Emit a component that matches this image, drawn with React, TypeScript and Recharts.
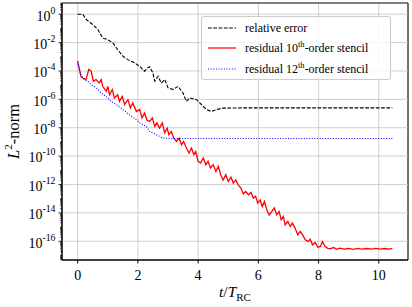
import React from 'react';
import {
  LineChart,
  Line,
  XAxis,
  YAxis,
  CartesianGrid,
  ReferenceLine,
  ReferenceArea,
  Legend,
} from 'recharts';

const FONT = '"Liberation Serif", "DejaVu Serif", "Times New Roman", serif';

// relative error (black dashed)
const errT = [0, 0.17, 0.28, 0.5, 0.67, 0.83, 1.0, 1.17, 1.33, 1.5, 1.67, 1.89, 2.06, 2.22, 2.33, 2.39, 2.5, 2.56, 2.67, 2.78, 2.89, 3.0, 3.17, 3.33, 3.5, 3.61, 3.72, 3.95, 4.11, 4.28, 4.44, 4.61, 4.81, 5.5, 6.5, 7.5, 8.5, 9.5, 10.45];
const errV = [1.0, 1.0, 0.43, 0.19, 0.083, 0.021, 0.016, 0.0095, 0.0032, 0.0011, 6.3e-4, 3.7e-4, 2.1e-4, 9.5e-5, 1.7e-4, 2.0e-4, 7.2e-5, 1.9e-5, 4.2e-5, 1.4e-5, 2.5e-5, 6.5e-6, 4.9e-6, 8.3e-6, 2.8e-6, 7.2e-7, 1.26e-6, 9.5e-7, 4.3e-7, 1.9e-7, 1.4e-7, 1.9e-7, 2.4e-7, 2.5e-7, 2.5e-7, 2.5e-7, 2.5e-7, 2.5e-7, 2.5e-7];

// residual, 10th-order stencil (red)
const res10T = [
  0, 0.06, 0.11, 0.17, 0.28, 0.37, 0.45, 0.52, 0.61, 0.72, 0.78, 0.83, 0.95, 1.0, 1.06, 1.15, 1.22, 1.33, 1.39, 1.48,
  1.56, 1.67, 1.75, 1.83, 1.95, 2.06, 2.14, 2.22, 2.3, 2.39, 2.48, 2.56, 2.63, 2.72, 2.81, 2.89, 2.97, 3.03, 3.11,
  3.19, 3.28, 3.37, 3.45, 3.52, 3.61, 3.7, 3.78, 3.86, 3.92, 4.0, 4.08, 4.17, 4.26, 4.33, 4.41, 4.5, 4.59, 4.67, 4.75,
  4.83, 4.92, 5.0, 5.09, 5.17, 5.25, 5.33, 5.42, 5.5, 5.58, 5.67, 5.76, 5.83, 5.91, 5.98, 6.06, 6.13, 6.2, 6.28, 6.36,
  6.45, 6.53, 6.61, 6.69, 6.76, 6.83, 6.89, 6.98, 7.06, 7.13, 7.22, 7.31, 7.39, 7.47, 7.56, 7.65, 7.72, 7.8, 7.89,
  7.98, 8.06, 8.13, 8.2, 8.3, 8.4, 8.5, 8.6, 8.7, 8.85, 9.0, 9.15, 9.3, 9.45, 9.6, 9.75, 9.9, 10.05, 10.2, 10.35, 10.45,
];
const res10V = [
  4.8e-4, 1.26e-4, 4.0e-5, 3.2e-5, 2.45e-5, 1.3e-4, 9.5e-5, 1.9e-5, 2.45e-5, 1.45e-5, 2.45e-5, 8.3e-6, 3.7e-6, 8.3e-6,
  2.1e-6, 4.9e-6, 1.26e-6, 2.1e-6, 7.2e-7, 1.6e-6, 4.3e-7, 9.5e-7, 2.5e-7, 5.6e-7, 1.4e-7, 1.9e-7, 4.9e-8, 1.1e-7,
  3.5e-8, 2.8e-8, 4.9e-8, 1.26e-8, 2.2e-8, 9.5e-9, 2.2e-8, 4.3e-9, 9.5e-9, 3.2e-9, 5.5e-9, 1.9e-9, 1.1e-9, 1.9e-9,
  6.3e-10, 1.1e-9, 3.7e-10, 1.66e-10, 3.7e-10, 1.26e-10, 2.1e-10, 4.3e-11, 3.2e-11, 7.4e-11, 2.45e-11, 4.3e-11,
  1.45e-11, 2.45e-11, 8.3e-12, 1.9e-11, 4.9e-12, 2.1e-12, 4.9e-12, 1.6e-12, 3.3e-12, 1.26e-12, 2.1e-12, 9.5e-13,
  5.6e-13, 2.2e-13, 3.2e-13, 1.9e-13, 2.75e-13, 1.1e-13, 1.45e-13, 4.9e-14, 8.3e-14, 2.8e-14, 6.3e-14, 1.66e-14,
  7.2e-15, 1.26e-14, 2.2e-14, 7.2e-15, 1.26e-14, 3.2e-15, 5.6e-15, 1.45e-15, 2.45e-15, 1.1e-15, 1.9e-15, 8.5e-16,
  2.8e-16, 4.9e-16, 2.8e-16, 1.26e-16, 9.5e-17, 1.4e-16, 5.6e-17, 8.1e-17, 3.8e-17, 4.3e-17, 9.5e-17, 4.8e-17,
  3.2e-17, 3.0e-17, 3.6e-17, 2.7e-17, 3.3e-17, 2.8e-17, 3.1e-17, 2.7e-17, 3.2e-17, 2.8e-17, 3.1e-17, 2.8e-17,
  3.2e-17, 2.8e-17, 3.1e-17, 2.8e-17, 3.2e-17,
];

// residual, 12th-order stencil (blue dotted)
const res12T = [0, 0.06, 0.11, 0.22, 0.33, 0.45, 0.61, 0.78, 0.95, 1.11, 1.28, 1.5, 1.72, 1.95, 2.06, 2.28, 2.39, 2.61, 2.83, 3.06, 4.0, 5.0, 6.0, 7.0, 8.0, 9.0, 10.0, 10.45];
const res12V = [4.8e-4, 1.26e-4, 5.5e-5, 2.45e-5, 1.9e-5, 1.1e-5, 6.5e-6, 2.8e-6, 1.6e-6, 7.2e-7, 4.3e-7, 1.9e-7, 8.3e-8, 3.7e-8, 2.2e-8, 1.26e-8, 5.5e-9, 3.2e-9, 1.9e-9, 1.75e-9, 1.75e-9, 1.75e-9, 1.75e-9, 1.75e-9, 1.75e-9, 1.75e-9, 1.75e-9, 1.75e-9];

const xTicks = [0, 2, 4, 6, 8, 10];
const yMajor = [1e0, 1e-2, 1e-4, 1e-6, 1e-8, 1e-10, 1e-12, 1e-14, 1e-16];

const X_DOMAIN = [-0.52, 10.97];
const Y_DOMAIN = [Math.pow(10, -17.32), Math.pow(10, 0.79)];

// minor log ticks (2..9 per decade) plus every decade
const yTicks: number[] = [];
for (let n = -18; n <= 1; n++) {
  for (let k = 1; k <= 9; k++) {
    const v = k * Math.pow(10, n);
    if (v >= Y_DOMAIN[0] && v <= Y_DOMAIN[1]) yTicks.push(v);
  }
}

const errData = errT.map((t, i) => ({ t, v: errV[i] }));
const res10Data = res10T.map((t, i) => ({ t, v: res10V[i] }));
const res12Data = res12T.map((t, i) => ({ t, v: res12V[i] }));

const GRID = '#c4c4c4';

function YTick(props: any) {
  const { x, y, payload } = props;
  const lg = Math.log10(payload.value);
  const e = Math.round(lg);
  const decade = Math.abs(lg - e) < 1e-6;
  const major = decade && e % 2 === 0;
  const len = major ? 3.5 : 2;
  return (
    <g>
      <line x1={x - len} x2={x} y1={y} y2={y} stroke="#000" strokeWidth={major ? 0.8 : 0.6} />
      {major && (
        <text x={x - 6.5} y={y + 6.3} textAnchor="end" fontFamily={FONT} fontSize={14} fill="#000">
          <tspan>10</tspan>
          <tspan dy={-7} fontSize={9.8}>{e === 0 ? '0' : `-${-e}`}</tspan>
        </text>
      )}
    </g>
  );
}

function XTick(props: any) {
  const { x, y, payload } = props;
  return (
    <text x={x} y={y + 10} textAnchor="middle" fontFamily={FONT} fontSize={14} fill="#000">
      {payload.value}
    </text>
  );
}

function XLabel(props: any) {
  const vb = props.viewBox;
  return (
    <text x={vb.x + vb.width / 2} y={vb.y + 37} textAnchor="middle" fontFamily={FONT} fontSize={15.5} fill="#000">
      <tspan fontStyle="italic">t</tspan>
      <tspan>/</tspan>
      <tspan fontStyle="italic">T</tspan>
      <tspan dy={3.5} fontSize={11}>RC</tspan>
    </text>
  );
}

function YLabel(props: any) {
  const vb = props.viewBox;
  const cx = 18.5;
  const cy = vb.y + vb.height / 2;
  return (
    <text x={cx} y={cy} transform={`rotate(-90 ${cx} ${cy})`} textAnchor="middle" fontFamily={FONT} fontSize={16.5} fill="#000">
      <tspan fontStyle="italic">L</tspan>
      <tspan dy={-6.5} fontSize={11}>2</tspan>
      <tspan dy={6.5}>-norm</tspan>
    </text>
  );
}

const legendRows = [
  { key: 'err', color: '#000', dash: '3.7 1.6', top: 11.3 },
  { key: 'r10', color: '#ff0000', dash: undefined, top: 30.7 },
  { key: 'r12', color: '#0000ff', dash: '1 1.65', top: 51.7 },
];

function LegendBox() {
  const label = (key: string) => {
    if (key === 'err') return <>relative error</>;
    const n = key === 'r10' ? '10' : '12';
    return (
      <>
        residual {n}
        <sup style={{ fontSize: 8.5, verticalAlign: 'baseline', position: 'relative', top: -5 }}>th</sup>-order stencil
      </>
    );
  };
  return (
    <div
      style={{
        position: 'relative',
        width: 190,
        height: 64,
        boxSizing: 'border-box',
        border: '1px solid #cccccc',
        borderRadius: 3,
        background: 'rgba(255,255,255,0.8)',
        fontFamily: FONT,
        fontSize: 12,
        color: '#000',
      }}
    >
      {legendRows.map((r) => (
        <div key={r.key} style={{ position: 'absolute', left: 0, top: r.top - 8, height: 16, width: 190 }}>
          <svg width={30} height={16} style={{ position: 'absolute', left: 5, top: 0 }}>
            <line x1={1} x2={29} y1={8} y2={8} stroke={r.color} strokeWidth={1.2} strokeDasharray={r.dash} />
          </svg>
          <span style={{ position: 'absolute', left: 43, top: 0, lineHeight: '16px', whiteSpace: 'nowrap' }}>
            {label(r.key)}
          </span>
        </div>
      ))}
    </div>
  );
}

export default function App() {
  return (
    <div style={{ position: 'absolute', left: 0, top: 0, width: 412, height: 307, background: '#fff' }}>
      <LineChart width={412} height={307} margin={{ top: 3, right: 4, bottom: 0, left: 0 }} style={{ fontFamily: FONT }}>
        <CartesianGrid horizontal={false} stroke={GRID} strokeWidth={0.8} />
        {yMajor.map((v) => (
          <ReferenceLine key={v} y={v} stroke={GRID} strokeWidth={0.8} />
        ))}
        <XAxis
          type="number"
          dataKey="t"
          domain={X_DOMAIN}
          allowDataOverflow
          ticks={xTicks}
          interval={0}
          height={47}
          tickSize={3.5}
          tickMargin={6}
          axisLine={{ stroke: '#000' }}
          tickLine={{ stroke: '#000' }}
          tick={XTick}
          label={{ content: XLabel }}
        />
        <YAxis
          type="number"
          scale="log"
          domain={Y_DOMAIN}
          allowDataOverflow
          ticks={yTicks}
          interval={0}
          width={62}
          tickSize={0}
          tickMargin={0}
          tickLine={false}
          axisLine={{ stroke: '#000' }}
          tick={YTick}
          label={{ content: YLabel }}
        />
        <ReferenceArea
          x1={X_DOMAIN[0]}
          x2={X_DOMAIN[1]}
          y1={Y_DOMAIN[0]}
          y2={Y_DOMAIN[1]}
          fill="none"
          fillOpacity={0}
          stroke="#000"
          strokeWidth={1}
        />
        <Line data={errData} dataKey="v" type="linear" stroke="#000" strokeWidth={1.1} strokeDasharray="3.7 1.6" dot={false} isAnimationActive={false} />
        <Line data={res10Data} dataKey="v" type="linear" stroke="#ff0000" strokeWidth={1.3} dot={false} isAnimationActive={false} />
        <Line data={res12Data} dataKey="v" type="linear" stroke="#0000ff" strokeWidth={1.1} strokeDasharray="1 1.65" dot={false} isAnimationActive={false} />
        <Legend
          layout="vertical"
          align="center"
          verticalAlign="middle"
          content={() => <LegendBox />}
          wrapperStyle={{ position: 'absolute', left: 201, top: 16, width: 190, height: 64 }}
        />
      </LineChart>
    </div>
  );
}
